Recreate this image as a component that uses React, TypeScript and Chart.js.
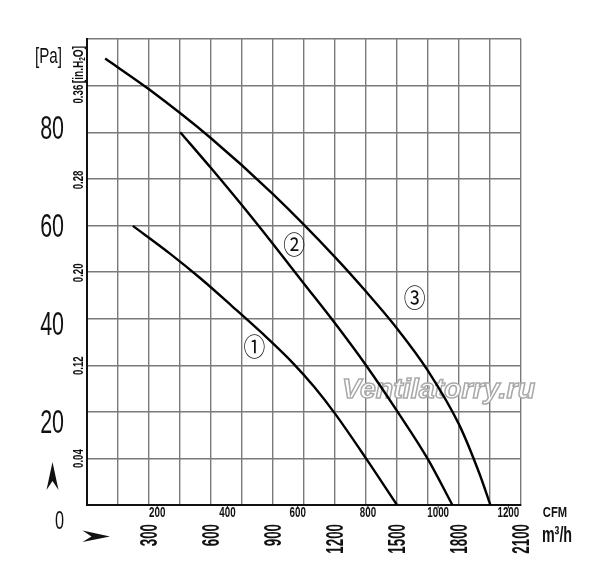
import React, { useEffect, useRef } from "react";
import { Chart, registerables } from "chart.js";

Chart.register(...registerables);

// ---- data (flow in m³/h, static pressure in Pa) ----
const flowM3h1 = [222, 400, 550, 700, 850, 1000, 1100, 1200, 1350, 1500];
const pressurePa1 = [59.9, 54.0, 48.6, 42.75, 36.75, 30.3, 25.3, 19.6, 10.0, 0];

const flowM3h2 = [451, 600, 750, 900, 1050, 1200, 1350, 1500, 1650, 1768];
const pressurePa2 = [80, 72.3, 64.3, 56.0, 47.5, 39.0, 30.0, 20.2, 9.8, 0];

const flowM3h3 = [88, 300, 600, 900, 1200, 1350, 1500, 1650, 1800, 1900, 1952];
const pressurePa3 = [95.8, 89.2, 78.7, 66.7, 53.2, 45.8, 37.9, 28.8, 17.3, 6.6, 0];

const curveNames = ["①", "②", "③"];
// label anchors in data units (m³/h, Pa)
const curveLabelFlow = [810, 1002, 1586];
const curveLabelPa = [34.0, 56.0, 44.5];

// ---- tick labels ----
const paTicks = [0, 20, 40, 60, 80];
const inH2OTicks = [0.04, 0.12, 0.2, 0.28, 0.36];
const cfmTicks = [200, 400, 600, 800, 1000, 1200];
const m3hTicks = [300, 600, 900, 1200, 1500, 1800, 2100];

const PA_PER_INH2O = 249.09;
const M3H_PER_CFM = 1.699;

const FONT = '"Liberation Sans", Arial, sans-serif';

function txt(
  ctx: CanvasRenderingContext2D,
  s: string,
  x: number,
  y: number,
  font: string,
  sx: number,
  align: CanvasTextAlign,
  baseline: CanvasTextBaseline,
  rotate = false,
  sy = 1
) {
  ctx.save();
  ctx.translate(x, y);
  if (rotate) ctx.rotate(-Math.PI / 2);
  ctx.scale(sx, sy);
  ctx.font = font;
  ctx.textAlign = align;
  ctx.textBaseline = baseline;
  ctx.fillStyle = "#111";
  ctx.fillText(s, 0, 0);
  ctx.restore();
}

const decorPlugin = {
  id: "decor",
  beforeDatasetsDraw(chart: any) {
    const { ctx, chartArea } = chart;
    const { left, bottom } = chartArea;
    ctx.save();
    ctx.font = `bold italic 28px ${FONT}`;
    ctx.textAlign = "left";
    ctx.textBaseline = "alphabetic";
    ctx.fillStyle = "#ffffff";
    ctx.strokeStyle = "#a9a9a9";
    ctx.lineWidth = 1.5;
    ctx.translate(left + 255, bottom - 107);
    ctx.scale(1.02, 1);
    ctx.fillText("Ventilatorry.ru", 0, 0);
    ctx.strokeText("Ventilatorry.ru", 0, 0);
    ctx.restore();
  },
  afterDraw(chart: any) {
    const { ctx, chartArea, scales } = chart;
    const { left, right, top, bottom } = chartArea;
    const xs = scales.x;
    const ys = scales.y;

    // Pa labels
    paTicks.forEach((v) => {
      const py = ys.getPixelForValue(v);
      const ly = bottom + 17 + (py - bottom) * 1.0515;
      const size = v === 0 ? 25 : 33;
      txt(ctx, String(v), left - 23, ly, `${size}px ${FONT}`, 0.65, "right", "middle");
    });
    txt(ctx, "[Pa]", left - 38.5, top + 18, `22px ${FONT}`, 0.69, "center", "middle");

    // inH2O labels (rotated)
    inH2OTicks.forEach((v, i) => {
      const py = ys.getPixelForValue(v * PA_PER_INH2O);
      const shift = i === inH2OTicks.length - 1 ? 7 : 0;
      txt(ctx, v.toFixed(2), left - 8, py + shift, `bold 15px ${FONT}`, 0.64, "center", "middle", true);
    });
    // unit "[in.H2O]" rotated with subscript
    {
      const py = ys.getPixelForValue(inH2OTicks[inH2OTicks.length - 1] * PA_PER_INH2O);
      ctx.save();
      ctx.translate(left - 8, py - 4);
      ctx.rotate(-Math.PI / 2);
      ctx.scale(0.72, 1);
      ctx.fillStyle = "#111";
      ctx.textBaseline = "middle";
      ctx.textAlign = "left";
      ctx.font = `bold 14px ${FONT}`;
      const a = "[in.H";
      ctx.fillText(a, 0, 0);
      let w = ctx.measureText(a).width;
      ctx.font = `bold 9px ${FONT}`;
      ctx.fillText("2", w, 4);
      w += ctx.measureText("2").width;
      ctx.font = `bold 14px ${FONT}`;
      ctx.fillText("O]", w, 0);
      ctx.restore();
    }

    // CFM ticks + labels
    ctx.save();
    ctx.strokeStyle = "#222";
    ctx.lineWidth = 1;
    cfmTicks.forEach((c) => {
      const px = xs.getPixelForValue(c * M3H_PER_CFM);
      ctx.beginPath();
      ctx.moveTo(px, bottom);
      ctx.lineTo(px, bottom + 3.5);
      ctx.stroke();
    });
    ctx.restore();
    cfmTicks.forEach((c) => {
      const px = xs.getPixelForValue(c * M3H_PER_CFM);
      txt(ctx, String(c), px, bottom + 8.5, `bold 14px ${FONT}`, 0.7, "center", "middle");
    });
    txt(ctx, "CFM", right + 34, bottom + 8, `bold 14px ${FONT}`, 0.8, "center", "middle");

    // m3/h labels (rotated)
    m3hTicks.forEach((v) => {
      const px = xs.getPixelForValue(v);
      txt(ctx, String(v), px + 2, bottom + 19, `bold 23px ${FONT}`, 0.58, "right", "middle", true);
    });
    txt(ctx, "m³/h", right + 36, bottom + 31, `bold 22px ${FONT}`, 0.65, "center", "middle");

    // curve labels
    curveNames.forEach((n, i) => {
      const px = xs.getPixelForValue(curveLabelFlow[i]);
      const py = ys.getPixelForValue(curveLabelPa[i]);
      txt(ctx, n, px, py, `23px "Noto Sans CJK JP", "DejaVu Sans", sans-serif`, 0.95, "center", "middle", false, 1.1);
    });

    // arrows
    ctx.save();
    ctx.fillStyle = "#111";
    ctx.beginPath();
    ctx.moveTo(left - 34.5, bottom - 43);
    ctx.lineTo(left - 28.5, bottom - 15);
    ctx.lineTo(left - 34.5, bottom - 24);
    ctx.lineTo(left - 40.5, bottom - 15);
    ctx.closePath();
    ctx.fill();
    ctx.beginPath();
    ctx.moveTo(left + 23, bottom + 31.5);
    ctx.lineTo(left - 4.5, bottom + 25.5);
    ctx.lineTo(left + 4.5, bottom + 31.5);
    ctx.lineTo(left - 4.5, bottom + 37);
    ctx.closePath();
    ctx.fill();
    ctx.restore();
  },
};

function series(xs: number[], ys: number[]) {
  return xs.map((x, i) => ({ x, y: ys[i] }));
}

export default function App() {
  const ref = useRef<HTMLCanvasElement>(null);
  useEffect(() => {
    const lineStyle = {
      borderColor: "#000",
      borderWidth: 2.4,
      pointRadius: 0,
      fill: false,
      cubicInterpolationMode: "monotone" as const,
    };
    const chart = new Chart(ref.current!, {
      type: "line",
      data: {
        datasets: [
          { label: "1", data: series(flowM3h1, pressurePa1), ...lineStyle },
          { label: "2", data: series(flowM3h2, pressurePa2), ...lineStyle },
          { label: "3", data: series(flowM3h3, pressurePa3), ...lineStyle },
        ],
      },
      options: {
        responsive: false,
        animation: false,
        devicePixelRatio: 1,
        layout: { padding: { left: 87, top: 39, right: 79, bottom: 81 } },
        plugins: { legend: { display: false }, tooltip: { enabled: false } },
        scales: {
          x: {
            type: "linear",
            min: 0,
            max: 2100,
            ticks: { stepSize: 150, display: false },
            grid: { color: "#7a7a7a", lineWidth: 1.4, drawTicks: false },
            border: { color: "#111", width: 2 },
          },
          y: {
            type: "linear",
            min: 0,
            max: 100,
            ticks: { stepSize: 10, display: false },
            grid: { color: "#7a7a7a", lineWidth: 1.4, drawTicks: false },
            border: { color: "#111", width: 2 },
          },
        },
      },
      plugins: [decorPlugin],
    });
    return () => chart.destroy();
  }, []);
  return (
    <div style={{ position: "absolute", left: 0, top: 0, width: 600, height: 586, background: "#fff" }}>
      <canvas ref={ref} width={600} height={586} style={{ width: 600, height: 586, display: "block" }} />
    </div>
  );
}
